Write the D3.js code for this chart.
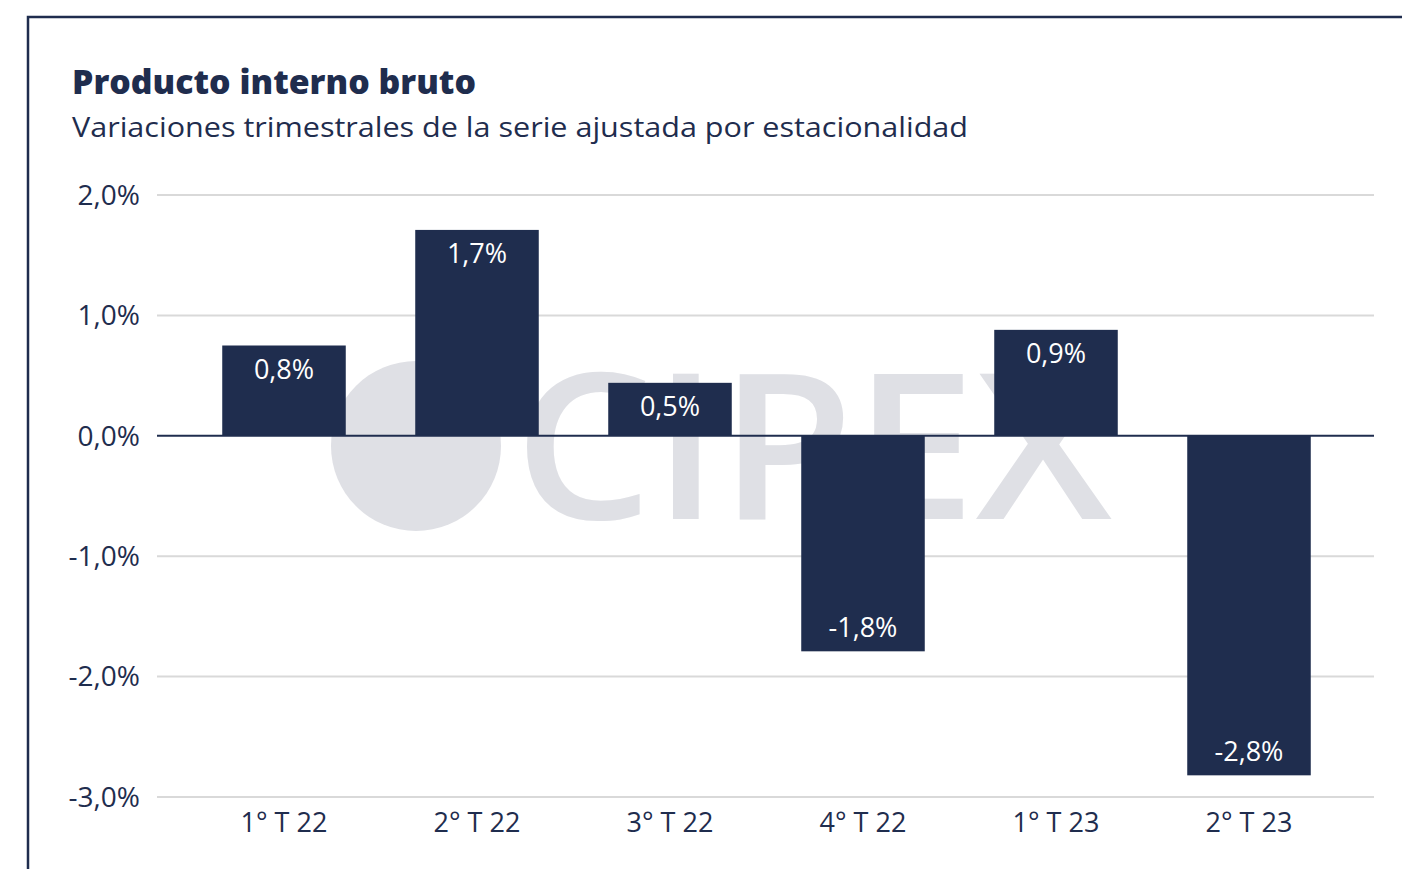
<!DOCTYPE html>
<html>
<head>
<meta charset="utf-8">
<script src="https://cdn.jsdelivr.net/npm/d3@7"></script>
<style>
  html, body { margin: 0; padding: 0; background: #fff; }
  svg { display: block; font-family: "Open Sans", "Noto Sans", sans-serif; }
</style>
</head>
<body>
<svg id="chart" width="1402" height="869"></svg>
<script>
"use strict";

const categories = ['1° T 22', '2° T 22', '3° T 22', '4° T 22', '1° T 23', '2° T 23'];
const values = [0.75, 1.71, 0.44, -1.79, 0.88, -2.82];
const valueLabels = ['0,8%', '1,7%', '0,5%', '-1,8%', '0,9%', '-2,8%'];
const yTicks = [2, 1, 0, -1, -2, -3];
const yTickLabels = ['2,0%', '1,0%', '0,0%', '-1,0%', '-2,0%', '-3,0%'];

const navy = '#1f2d4e';
const svg = d3.select('#chart');

// frame
svg.append('path')
  .attr('d', 'M28,869 L28,17 L1402,17')
  .attr('fill', 'none')
  .attr('stroke', navy)
  .attr('stroke-width', 2.5);

// titles
svg.append('text')
  .attr('x', 72).attr('y', 94)
  .attr('font-size', 34).attr('font-weight', 800)
  .attr('fill', navy)
  .attr('textLength', 404)
  .attr('lengthAdjust', 'spacingAndGlyphs')
  .text('Producto interno bruto');

svg.append('text')
  .attr('x', 72).attr('y', 137)
  .attr('font-size', 28)
  .attr('fill', navy)
  .attr('textLength', 896)
  .attr('lengthAdjust', 'spacingAndGlyphs')
  .text('Variaciones trimestrales de la serie ajustada por estacionalidad');

const x = d3.scaleBand()
  .domain(categories)
  .range([187.5, 1345.5])
  .paddingInner(0.36)
  .paddingOuter(0.18);

const y = d3.scaleLinear().domain([-3, 2]).range([797, 195]);

const gridLeft = 157, gridRight = 1374;

// watermark
const wm = svg.append('g');
wm.append('circle').attr('cx', 416).attr('cy', 446).attr('r', 85).attr('fill', '#dfe0e5');
wm.append('text')
  .attr('x', 514).attr('y', 519)
  .attr('font-size', 203)
  .attr('font-weight', 600)
  .attr('textLength', 598)
  .attr('lengthAdjust', 'spacingAndGlyphs')
  .attr('fill', '#dfe0e5')
  .text('CIPEX');

// gridlines
svg.append('g')
  .selectAll('line')
  .data(yTicks.filter((d) => d !== 0))
  .join('line')
  .attr('x1', gridLeft).attr('x2', gridRight)
  .attr('y1', (d) => y(d)).attr('y2', (d) => y(d))
  .attr('stroke', '#d9d9d9')
  .attr('stroke-width', 2);

// y labels
svg.append('g')
  .selectAll('text')
  .data(yTicks)
  .join('text')
  .attr('x', 140)
  .attr('y', (d) => y(d))
  .attr('dy', '0.35em')
  .attr('text-anchor', 'end')
  .attr('font-size', 28)
  .attr('fill', navy)
  .text((d, i) => yTickLabels[i]);

// bars
svg.append('g')
  .selectAll('rect')
  .data(values)
  .join('rect')
  .attr('x', (d, i) => x(categories[i]))
  .attr('width', x.bandwidth())
  .attr('y', (d) => y(Math.max(0, d)))
  .attr('height', (d) => Math.abs(y(d) - y(0)))
  .attr('fill', navy);

// zero line
svg.append('line')
  .attr('x1', gridLeft).attr('x2', gridRight)
  .attr('y1', y(0)).attr('y2', y(0))
  .attr('stroke', navy)
  .attr('stroke-width', 2);

// value labels
svg.append('g')
  .selectAll('text')
  .data(values)
  .join('text')
  .attr('x', (d, i) => x(categories[i]) + x.bandwidth() / 2)
  .attr('y', (d) => d >= 0 ? y(d) + 33 : y(d) - 14)
  .attr('text-anchor', 'middle')
  .attr('font-size', 27)
  .attr('fill', '#fff')
  .text((d, i) => valueLabels[i]);

// x labels
svg.append('g')
  .selectAll('text')
  .data(categories)
  .join('text')
  .attr('x', (d) => x(d) + x.bandwidth() / 2)
  .attr('y', 832)
  .attr('text-anchor', 'middle')
  .attr('font-size', 27)
  .attr('fill', navy)
  .text((d) => d);
</script>
</body>
</html>
